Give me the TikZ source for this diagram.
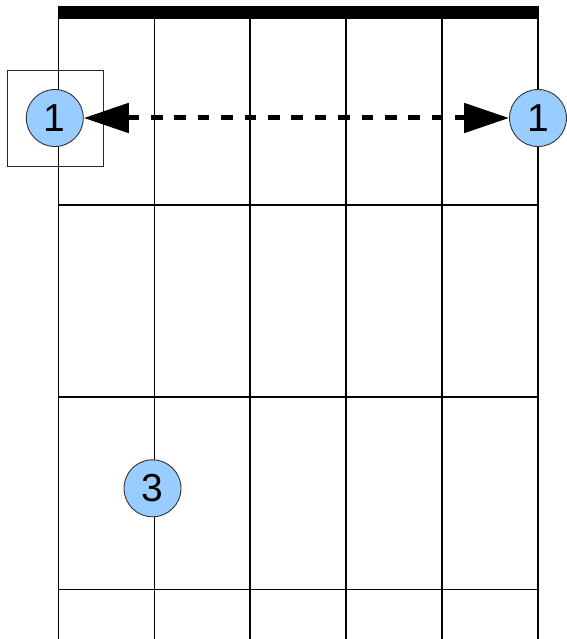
\documentclass[tikz,border=0pt]{standalone}
\usepackage{fontspec}
\setmainfont{Liberation Sans}
\usetikzlibrary{arrows.meta}
\definecolor{finger}{HTML}{99CCFF}
\tikzset{
  grid/.style={line width=1.2pt, black},
  dot/.style={circle, draw=black!80, line width=0.9pt, fill=finger, minimum size=57pt, inner sep=0pt, font=\fontsize{39}{39}\selectfont},
  bar/.style={fill=black},
  frame/.style={draw=black!85, line width=1pt},
  slide/.style={line width=5pt, dash pattern=on 11.7pt off 11.7pt, {Triangle[length=45pt,width=29pt]}-{Triangle[length=45pt,width=29pt]}, shorten <=0pt, shorten >=0pt}
}
\begin{document}
\begin{tikzpicture}[x=1pt,y=-1pt]
\useasboundingbox (0,0) rectangle (566,639);
% strings
\foreach \x in {58.5,154.5,250,346,442,538}{
  \draw[grid] (\x,19) -- (\x,639);
}
% frets
\foreach \y in {205,397,589.5}{
  \draw[grid] (58.5,\y) -- (538,\y);
}
% nut
\fill[bar] (58,6) rectangle (538.5,19.5);
% marker frame
\node[frame, minimum size=96pt, inner sep=0pt] (box) at (55.3,118.2) {};
% fingers
\node[dot] (a) at (54.8,118) {1};
\node[dot] (b) at (538,118) {1};
\node[dot] (c) at (152.5,488.3) {3};
\draw[slide] (a) -- (b);
\end{tikzpicture}
\end{document}
